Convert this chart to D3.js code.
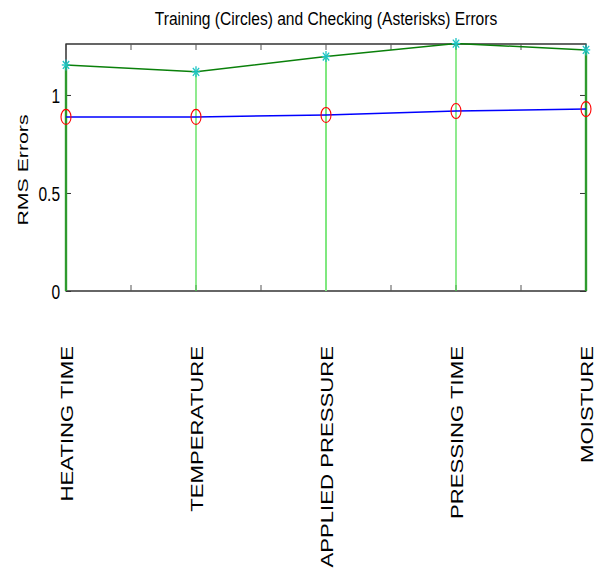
<!DOCTYPE html>
<html>
<head>
<meta charset="utf-8">
<script src="https://cdn.jsdelivr.net/npm/d3@7/dist/d3.min.js"></script>
<style>
  html, body { margin: 0; padding: 0; background: #fff; }
  svg { display: block; }
  text { font-family: "Liberation Sans", Arial, sans-serif; fill: #000; }
</style>
</head>
<body>
<svg id="chart" width="596" height="577"></svg>
<script>
// Inputs examined, in order along the x axis
const categories = ["HEATING TIME", "TEMPERATURE", "APPLIED PRESSURE", "PRESSING TIME", "MOISTURE"];
// RMS error after training (circles) and on checking data (asterisks)
const trainingErrors = [0.888, 0.888, 0.898, 0.918, 0.928];
const checkingErrors = [1.153, 1.118, 1.196, 1.262, 1.230];
const yTicks = [0, 0.5, 1];
const xMinorTicks = [1, 1.5, 2, 2.5, 3, 3.5, 4, 4.5, 5];

const W = 596, H = 577;
const plot = { left: 66, right: 586, top: 44, bottom: 291 };
const stretch = 1.36; // glyphs are drawn taller than wide

const svg = d3.select("#chart");

const x = d3.scaleLinear().domain([1, 5]).range([plot.left, plot.right]);
const y = d3.scaleLinear().domain([0, 1.26]).range([plot.bottom, plot.top]);

// Frame
svg.append("rect")
  .attr("x", plot.left).attr("y", plot.top)
  .attr("width", plot.right - plot.left).attr("height", plot.bottom - plot.top)
  .attr("fill", "none").attr("stroke", "#000").attr("stroke-width", 1.2);

// Inward ticks on top and bottom
const tickLen = 6;
const xTickG = svg.append("g").attr("stroke", "#555").attr("stroke-width", 1);
xMinorTicks.forEach(t => {
  xTickG.append("line").attr("x1", x(t)).attr("x2", x(t))
    .attr("y1", plot.bottom).attr("y2", plot.bottom - tickLen);
  xTickG.append("line").attr("x1", x(t)).attr("x2", x(t))
    .attr("y1", plot.top).attr("y2", plot.top + tickLen);
});

// Left axis with labels
const yAxis = d3.axisLeft(y).tickValues(yTicks).tickSizeInner(-5).tickSizeOuter(0)
  .tickPadding(6).tickFormat(d => String(d));
const yg = svg.append("g").attr("transform", `translate(${plot.left},0)`).call(yAxis);
yg.select(".domain").remove();
yg.selectAll(".tick line").attr("stroke", "#333");
yg.selectAll(".tick text")
  .attr("font-size", 15.5)
  .attr("font-family", "Liberation Sans, Arial, sans-serif")
  .attr("dy", "0.36em")
  .attr("transform", `scale(1,${stretch})`);

// Right side ticks
const yRight = d3.axisRight(y).tickValues(yTicks).tickSizeInner(-6).tickSizeOuter(0).tickFormat("");
const yrg = svg.append("g").attr("transform", `translate(${plot.right},0)`).call(yRight);
yrg.select(".domain").remove();
yrg.selectAll(".tick line").attr("stroke", "#333");

// Stems from zero up to each checking error
const stemG = svg.append("g");
categories.forEach((c, i) => {
  const edge = (i === 0 || i === categories.length - 1);
  stemG.append("line")
    .attr("x1", x(i + 1)).attr("x2", x(i + 1))
    .attr("y1", y(0)).attr("y2", y(checkingErrors[i]))
    .attr("stroke", edge ? "#2e9a2e" : (i === 2 ? "#7fe87f" : "#44dd44"))
    .attr("stroke-width", edge ? 2.4 : (i === 2 ? 2 : 1.2));
});

// Lines
const line = d3.line().x((d, i) => x(i + 1)).y(d => y(d));
svg.append("path").datum(checkingErrors)
  .attr("d", line).attr("fill", "none")
  .attr("stroke", "#0a800a").attr("stroke-width", 1.5);
svg.append("path").datum(trainingErrors)
  .attr("d", line).attr("fill", "none")
  .attr("stroke", "#0000ff").attr("stroke-width", 1.5);

// Circle markers (training)
svg.append("g").selectAll("ellipse").data(trainingErrors).join("ellipse")
  .attr("cx", (d, i) => x(i + 1)).attr("cy", d => y(d))
  .attr("rx", 5).attr("ry", 7.5)
  .attr("fill", "none").attr("stroke", "#ff0000").attr("stroke-width", 1.1);

// Asterisk markers (checking)
const star = svg.append("g").attr("stroke", "#1cc4c4").attr("stroke-width", 1.3);
checkingErrors.forEach((d, i) => {
  const cx = x(i + 1), cy = y(d), r = 4.2, rv = 5.5;
  star.append("line").attr("x1", cx - r).attr("x2", cx + r).attr("y1", cy).attr("y2", cy);
  star.append("line").attr("x1", cx).attr("x2", cx).attr("y1", cy - rv).attr("y2", cy + rv);
  star.append("line").attr("x1", cx - r * 0.75).attr("x2", cx + r * 0.75).attr("y1", cy - rv * 0.72).attr("y2", cy + rv * 0.72);
  star.append("line").attr("x1", cx - r * 0.75).attr("x2", cx + r * 0.75).attr("y1", cy + rv * 0.72).attr("y2", cy - rv * 0.72);
});

// Category labels, rotated
categories.forEach((c, i) => {
  svg.append("text")
    .attr("transform", `translate(${x(i + 1) + 7},346) scale(1,${stretch}) rotate(-90)`)
    .attr("text-anchor", "end")
    .attr("font-size", 16.3)
    .text(c);
});

// Y axis title
svg.append("text")
  .attr("transform", `translate(28,170) scale(1,1.42) rotate(-90)`)
  .attr("text-anchor", "middle")
  .attr("font-size", 15)
  .text("RMS Errors");

// Chart title
svg.append("text")
  .attr("transform", `translate(${(plot.left + plot.right) / 2},25) scale(1,1.2)`)
  .attr("text-anchor", "middle")
  .attr("font-size", 15.6)
  .text("Training (Circles) and Checking (Asterisks) Errors");
</script>
</body>
</html>
